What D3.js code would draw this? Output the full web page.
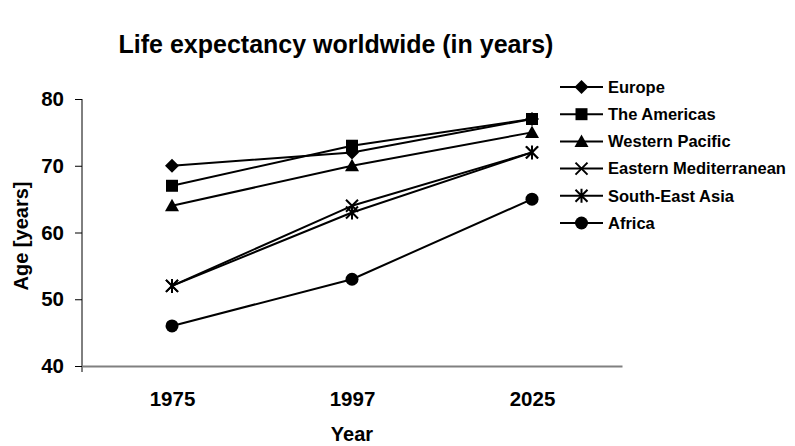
<!DOCTYPE html>
<meta charset="utf-8">
<style>
body { margin: 0; background: #fff; }
text { font-family: "Liberation Sans", Arial, sans-serif; font-weight: bold; fill: #000; }
.line { fill: none; stroke: #000; stroke-width: 2px; stroke-linejoin: round; }
</style>
<svg width="795" height="446"></svg>
<script src="https://d3js.org/d3.v7.min.js"></script>
<script>

var svg = d3.select("svg");

// data
var years = ["1975", "1997", "2025"];
var regions = ["Europe", "The Americas", "Western Pacific", "Eastern Mediterranean", "South-East Asia", "Africa"];
var europe   = [70, 72, 77];
var americas = [67, 73, 77];
var wpacific = [64, 70, 75];
var emed     = [52, 64, 72];
var seasia   = [52, 63, 72];
var africa   = [46, 53, 65];
var yTicks   = [40, 50, 60, 70, 80];

var series = [europe, americas, wpacific, emed, seasia, africa];
var markers = ["diamond", "square", "triangle", "cross", "star", "circle"];

var x = d3.scalePoint()
    .domain(years)
    .range([82, 622])
    .padding(0.5);

var y = d3.scaleLinear()
    .domain([40, 80])
    .range([366, 99]);

// marker shapes, Excel style
function marker(sel, kind) {
  if (kind == "circle") {
    sel.append("circle").attr("r", 6.5).attr("fill", "#000");
  } else if (kind == "diamond") {
    sel.append("path").attr("d", "M0,-7L7,0L0,7L-7,0Z").attr("fill", "#000");
  } else if (kind == "square") {
    sel.append("path").attr("d", "M-6,-6h12v12h-12Z").attr("fill", "#000");
  } else if (kind == "triangle") {
    sel.append("path").attr("d", "M0,-7L7,5.5L-7,5.5Z").attr("fill", "#000");
  } else if (kind == "cross") {
    sel.append("path").attr("d", "M-6,-6L6,6M-6,6L6,-6")
      .attr("stroke", "#000").attr("stroke-width", 2).attr("fill", "none");
  } else if (kind == "star") {
    sel.append("path").attr("d", "M-6,-6L6,6M-6,6L6,-6M0,-7V7")
      .attr("stroke", "#000").attr("stroke-width", 2).attr("fill", "none");
  }
}

// title
svg.append("text")
    .attr("x", 336)
    .attr("y", 53)
    .attr("text-anchor", "middle")
    .style("font-size", "25px")
    .text("Life expectancy worldwide (in years)");

// y axis
var yAxis = svg.append("g")
    .attr("transform", "translate(82,0)")
    .call(d3.axisLeft(y).tickValues(yTicks).tickSize(7).tickPadding(11));
yAxis.select(".domain").attr("d", "M0,99V372").attr("stroke", "#000");
yAxis.selectAll(".tick line").attr("stroke", "#000");
yAxis.selectAll(".tick text")
    .style("font-family", "'Liberation Sans', Arial, sans-serif")
    .style("font-weight", "bold")
    .style("font-size", "20.5px");

// x axis
var xAxis = svg.append("g")
    .attr("transform", "translate(0,366)")
    .call(d3.axisBottom(x).tickSize(0).tickPadding(25));
xAxis.select(".domain").attr("stroke", "#808080").attr("stroke-width", 2);
xAxis.selectAll(".tick text")
    .style("font-family", "'Liberation Sans', Arial, sans-serif")
    .style("font-weight", "bold")
    .style("font-size", "20.5px");

svg.append("text")
    .attr("x", x("1997"))
    .attr("y", 441)
    .attr("text-anchor", "middle")
    .style("font-size", "20px")
    .text("Year");

svg.append("text")
    .attr("transform", "translate(28,236) rotate(-90)")
    .attr("text-anchor", "middle")
    .style("font-size", "20px")
    .text("Age [years]");

// lines and markers
var line = d3.line()
    .x(function(d, i) { return x(years[i]); })
    .y(function(d) { return y(d); });

series.forEach(function(s, k) {
  svg.append("path")
      .datum(s)
      .attr("class", "line")
      .attr("d", line);
  s.forEach(function(v, i) {
    var g = svg.append("g")
        .attr("transform", "translate(" + x(years[i]) + "," + y(v) + ")");
    marker(g, markers[k]);
  });
});

// legend
var legend = svg.append("g")
    .attr("transform", "translate(560,87)");

regions.forEach(function(name, k) {
  var row = legend.append("g")
      .attr("transform", "translate(0," + (k * 27.2) + ")");
  row.append("line")
      .attr("x1", 0).attr("x2", 43)
      .attr("stroke", "#000").attr("stroke-width", 2);
  var m = row.append("g").attr("transform", "translate(21.5,0)");
  marker(m, markers[k]);
  row.append("text")
      .attr("x", 48)
      .attr("dy", "0.35em")
      .style("font-size", "16.5px")
      .text(name);
});

</script>
